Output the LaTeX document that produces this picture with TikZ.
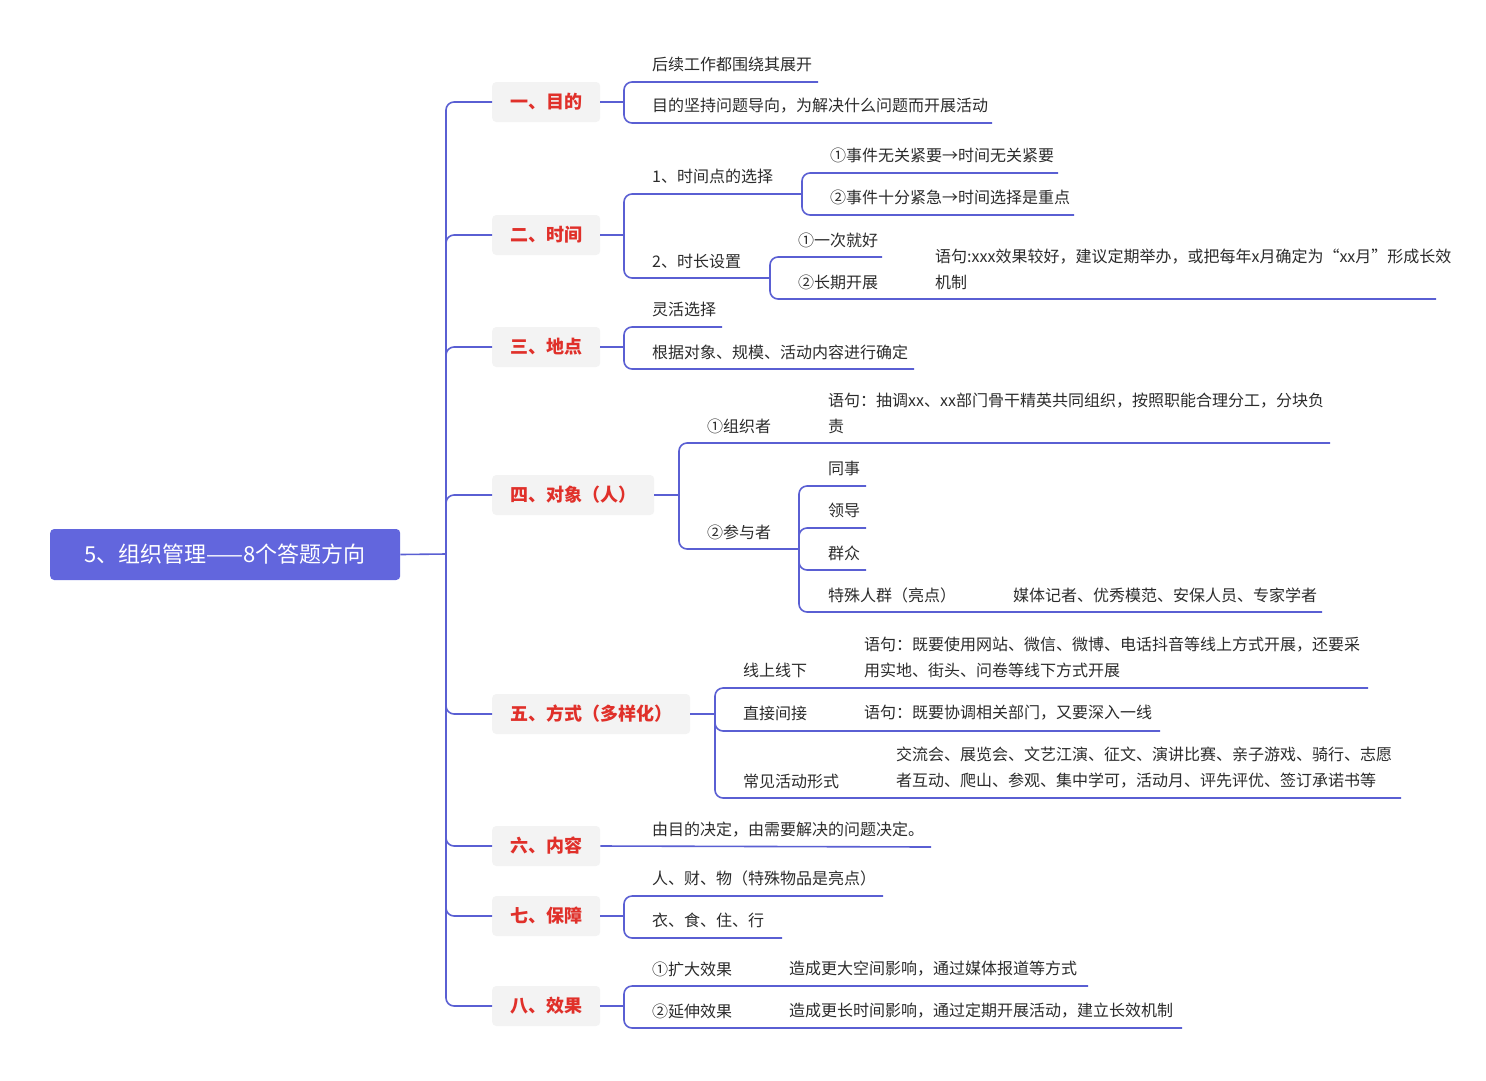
\documentclass[tikz,border=0pt]{standalone}
\usepackage{fontspec}
\setmainfont{Noto Sans CJK SC}
\definecolor{ln}{HTML}{5A5FD3}
\definecolor{rootc}{HTML}{6266DD}
\definecolor{catred}{HTML}{E0302A}
\definecolor{catbg}{HTML}{F3F3F3}
\definecolor{tx}{HTML}{2B2B2B}
\begin{document}
\begin{tikzpicture}[x=1pt,y=-1pt,
  conn/.style={draw=ln,line width=1.6pt,rounded corners=8pt},
  cat/.style={fill=catbg,rounded corners=4pt,text=catred,font=\fontsize{18}{22}\selectfont\bfseries,anchor=west,minimum height=40pt,inner xsep=18pt},
  lf/.style={anchor=west,inner sep=0pt,text=tx,font=\fontsize{16}{26}\selectfont,align=left}]
\useasboundingbox (0,0) rectangle (1486,1080);
\node[fill=rootc,rounded corners=4pt,text=white,font=\fontsize{22}{26}\selectfont,minimum width=350pt,minimum height=51pt,anchor=west] (root) at (50,554.5) {5、组织管理——8个答题方向};
% categories
\node[cat] (c1) at (492,102) {一、目的};
\node[cat] (c2) at (492,235) {二、时间};
\node[cat] (c3) at (492,347) {三、地点};
\node[cat] (c4) at (492,495) {四、对象（人）};
\node[cat] (c5) at (492,714) {五、方式（多样化）};
\node[cat] (c6) at (492,846) {六、内容};
\node[cat] (c7) at (492,916) {七、保障};
\node[cat] (c8) at (492,1006) {八、效果};
\coordinate (tr) at (446,554);
\draw[conn] (root.east) -- (tr);
\foreach \c in {c1,c2,c3,c4,c5,c6,c7,c8} \draw[conn] (tr) |- (\c.west);
% 一
\coordinate (v1) at (624,102);
\draw[conn] (c1.east) -- (v1);
\node[lf] (a1) at (652,64) {后续工作都围绕其展开};
\node[lf] (a2) at (652,106) {目的坚持问题导向，为解决什么问题而开展活动};
\draw[conn] (v1) |- (818,82); \draw[conn] (v1) |- (992,123);
% 二
\coordinate (v2) at (624,235);
\draw[conn] (c2.east) -- (v2);
\node[lf] (b1) at (652,176) {1、时间点的选择};
\node[lf] (b2) at (652,261) {2、时长设置};
\draw[conn] (v2) |- (802,194); \draw[conn] (v2) |- (770,278);
\coordinate (v21) at (802,194);
\node[lf] (b11) at (830,155) {①事件无关紧要→时间无关紧要};
\node[lf] (b12) at (830,197) {②事件十分紧急→时间选择是重点};
\draw[conn] (v21) |- (1058,173); \draw[conn] (v21) |- (1074,215);
\coordinate (v22) at (770,278);
\node[lf] (b21) at (798,240) {①一次就好};
\node[lf] (b22) at (798,282) {②长期开展};
\node[lf] (b221) at (935,269) {语句:xxx效果较好，建议定期举办，或把每年x月确定为“xx月”形成长效\\机制};
\draw[conn] (v22) |- (882,257); \draw[conn] (v22) |- (1436,299);
% 三
\coordinate (v3) at (624,347);
\draw[conn] (c3.east) -- (v3);
\node[lf] (d1) at (652,309) {灵活选择};
\node[lf] (d2) at (652,352) {根据对象、规模、活动内容进行确定};
\draw[conn] (v3) |- (722,327); \draw[conn] (v3) |- (914,369);
% 四
\coordinate (v4) at (679,495);
\draw[conn] (c4.east) -- (v4);
\node[lf] (e1) at (707,426) {①组织者};
\node[lf] (e11) at (828,413) {语句：抽调xx、xx部门骨干精英共同组织，按照职能合理分工，分块负\\责};
\node[lf] (e2) at (707,532) {②参与者};
\draw[conn] (v4) |- (1330,443); \draw[conn] (v4) |- (799,549);
\coordinate (v42) at (799,549);
\node[lf] (e21) at (828,468) {同事};
\node[lf] (e22) at (828,510) {领导};
\node[lf] (e23) at (828,553) {群众};
\node[lf] (e24) at (828,595) {特殊人群（亮点）};
\node[lf] (e241) at (1013,595) {媒体记者、优秀模范、安保人员、专家学者};
\draw[conn] (v42) |- (866,486); \draw[conn] (v42) |- (866,528);
\draw[conn] (v42) |- (866,570); \draw[conn] (v42) |- (1322,612);
% 五
\coordinate (v5) at (715,714);
\draw[conn] (c5.east) -- (v5);
\node[lf] (f1) at (743,670) {线上线下};
\node[lf] (f11) at (864,657) {语句：既要使用网站、微信、微博、电话抖音等线上方式开展，还要采\\用实地、街头、问卷等线下方式开展};
\node[lf] (f2) at (743,713) {直接间接};
\node[lf] (f21) at (864,713) {语句：既要协调相关部门，又要深入一线};
\node[lf] (f3) at (743,781) {常见活动形式};
\node[lf] (f31) at (896,768) {交流会、展览会、文艺江演、征文、演讲比赛、亲子游戏、骑行、志愿\\者互动、爬山、参观、集中学可，活动月、评先评优、签订承诺书等};
\draw[conn] (v5) |- (1368,688); \draw[conn] (v5) |- (1160,731); \draw[conn] (v5) |- (1401,798);
% 六
\node[lf] (g1) at (652,830) {由目的决定，由需要解决的问题决定。};
\draw[conn] (c6.east) -- (931,847);
% 七
\coordinate (v7) at (624,916);
\draw[conn] (c7.east) -- (v7);
\node[lf] (h1) at (652,878) {人、财、物（特殊物品是亮点）};
\node[lf] (h2) at (652,920) {衣、食、住、行};
\draw[conn] (v7) |- (883,896); \draw[conn] (v7) |- (782,938);
% 八
\coordinate (v8) at (624,1006);
\draw[conn] (c8.east) -- (v8);
\node[lf] (k1) at (652,969) {①扩大效果};
\node[lf] (k11) at (789,969) {造成更大空间影响，通过媒体报道等方式};
\node[lf] (k2) at (652,1011) {②延伸效果};
\node[lf] (k21) at (789,1011) {造成更长时间影响，通过定期开展活动，建立长效机制};
\draw[conn] (v8) |- (1088,986); \draw[conn] (v8) |- (1182,1028);
\end{tikzpicture}
\end{document}
